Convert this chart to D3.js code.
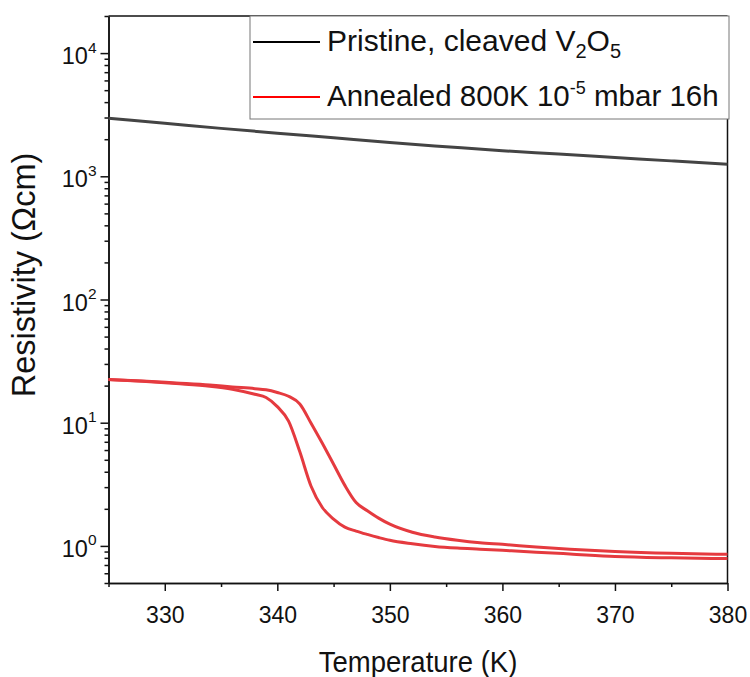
<!DOCTYPE html>
<html lang="en">
<head>
<meta charset="utf-8">
<title>Resistivity vs temperature</title>
<script src="https://cdn.jsdelivr.net/npm/d3@7"></script>
<style>
  body { margin: 0; background: #fff; }
  svg text { font-family: "Liberation Sans", Arial, sans-serif; fill: #111; }
  .axis path, .axis line { stroke: #111; stroke-width: 1.5; }
</style>
</head>
<body>
<svg id="chart" width="750" height="677"></svg>

<script>
// data
var pristineT = [325, 330, 335, 340, 345, 350, 355, 360, 365, 370, 375, 380];
var pristineR = [2958, 2692, 2449, 2239, 2051, 1879, 1738, 1611, 1517, 1422, 1334, 1250];

var annealedT = [325, 328, 331, 334, 336, 338, 339, 340, 341, 342, 343, 344, 345, 346, 347, 348, 349, 350, 352, 354, 356, 358, 360, 363, 366, 370, 375, 380];
// upper branch (heating) and lower branch (cooling)
var heatingR = [22.4, 21.8, 21.0, 20.2, 19.5, 18.9, 18.5, 17.6, 16.4, 14.2, 9.9, 6.8, 4.6, 3.1, 2.25, 1.93, 1.68, 1.50, 1.29, 1.18, 1.11, 1.06, 1.03, 0.98, 0.94, 0.90, 0.87, 0.855];
var coolingR = [22.4, 21.7, 20.8, 19.8, 18.7, 17.0, 16.0, 13.5, 10.3, 5.8, 3.05, 2.05, 1.65, 1.42, 1.32, 1.24, 1.17, 1.11, 1.04, 0.99, 0.96, 0.94, 0.92, 0.89, 0.86, 0.82, 0.80, 0.79];

var xMajor = [330, 340, 350, 360, 370, 380];
var xMinor = [325, 335, 345, 355, 365, 375];
var yMajor = [1, 10, 100, 1000, 10000];

var svg = d3.select('#chart');

var mLeft = 108.5, mRight = 727.5, mTop = 16, mBottom = 583;

var x = d3.scaleLinear().domain([325, 380]).range([mLeft, mRight]);
var y = d3.scaleLog().domain([0.5, 2e4]).range([mBottom, mTop]);

// minor y ticks: 2..9 in each decade
var yMinor = [];
[0.1, 1, 10, 100, 1000, 10000].forEach(function(d) {
  for (var k = 2; k <= 9; k++) {
    var v = d * k;
    if (v >= 0.5 && v <= 2e4) yMinor.push(v);
  }
});

// frame (top + right)
svg.append('line')
  .attr('x1', mLeft).attr('x2', mRight).attr('y1', mTop).attr('y2', mTop)
  .attr('stroke', '#111').attr('stroke-width', 1.5);
svg.append('line')
  .attr('x1', mRight).attr('x2', mRight).attr('y1', mTop).attr('y2', mBottom)
  .attr('stroke', '#111').attr('stroke-width', 1.5);

// x axis
svg.append('g').attr('class', 'axis')
  .attr('transform', 'translate(0,' + mBottom + ')')
  .call(d3.axisBottom(x).tickValues(xMinor).tickSize(4).tickFormat('').tickSizeOuter(0));
var gx = svg.append('g').attr('class', 'axis')
  .attr('transform', 'translate(0,' + mBottom + ')')
  .call(d3.axisBottom(x).tickValues(xMajor).tickSize(8).tickSizeOuter(0).tickPadding(16));
gx.selectAll('text').attr('font-size', 23);

// y axis
svg.append('g').attr('class', 'axis')
  .attr('transform', 'translate(' + mLeft + ',0)')
  .call(d3.axisLeft(y).tickValues(yMinor).tickSize(4).tickFormat('').tickSizeOuter(0));
var gy = svg.append('g').attr('class', 'axis')
  .attr('transform', 'translate(' + mLeft + ',0)')
  .call(d3.axisLeft(y).tickValues(yMajor).tickSize(8).tickSizeOuter(0).tickPadding(4));
gy.selectAll('text').each(function(d) {
  var t = d3.select(this).text(null).attr('font-size', 23.5).attr('dy', '0.45em');
  t.append('tspan').text('10');
  t.append('tspan').attr('font-size', 15.5).attr('dy', '-0.75em').text(Math.round(Math.log10(d)));
});

// curves
var line = d3.line()
  .x(function(d) { return x(d[0]); })
  .y(function(d) { return y(d[1]); })
  .curve(d3.curveMonotoneX);

svg.append('path')
  .datum(d3.zip(pristineT, pristineR))
  .attr('fill', 'none').attr('stroke', '#444').attr('stroke-width', 3)
  .attr('d', line);

[heatingR, coolingR].forEach(function(vals) {
  svg.append('path')
    .datum(d3.zip(annealedT, vals))
    .attr('fill', 'none').attr('stroke', '#e53a3f').attr('stroke-width', 3)
    .attr('d', line);
});

// axis titles
svg.append('text')
  .attr('transform', 'translate(' + ((mLeft + mRight) / 2) + ',672) scale(1,1.1)')
  .attr('text-anchor', 'middle').attr('font-size', 27.5)
  .text('Temperature (K)');
svg.append('text')
  .attr('transform', 'translate(35,275) rotate(-90)')
  .attr('text-anchor', 'middle').attr('font-size', 32.5)
  .text('Resistivity (\u03A9cm)');

// legend
var lg = svg.append('g');
lg.append('rect')
  .attr('x', 250).attr('y', mTop).attr('width', 479).attr('height', 103)
  .attr('fill', '#fff').attr('stroke', '#777').attr('stroke-width', 1);

lg.append('line').attr('x1', 253).attr('x2', 320).attr('y1', 42).attr('y2', 42)
  .attr('stroke', '#000').attr('stroke-width', 2);
lg.append('line').attr('x1', 253).attr('x2', 320).attr('y1', 97).attr('y2', 97)
  .attr('stroke', '#f00').attr('stroke-width', 2);

var l1 = lg.append('text').attr('x', 327).attr('y', 51).attr('font-size', 30);
l1.append('tspan').text('Pristine, cleaved V');
l1.append('tspan').attr('font-size', 20).attr('dy', 7).text('2');
l1.append('tspan').attr('dy', -7).text('O');
l1.append('tspan').attr('font-size', 20).attr('dy', 7).text('5');

var l2 = lg.append('text').attr('x', 327).attr('y', 106).attr('font-size', 29.5);
l2.append('tspan').text('Annealed 800K 10');
l2.append('tspan').attr('font-size', 18).attr('dy', -12).text('-5');
l2.append('tspan').attr('dy', 12).text(' mbar 16h');
</script>
</body>
</html>
